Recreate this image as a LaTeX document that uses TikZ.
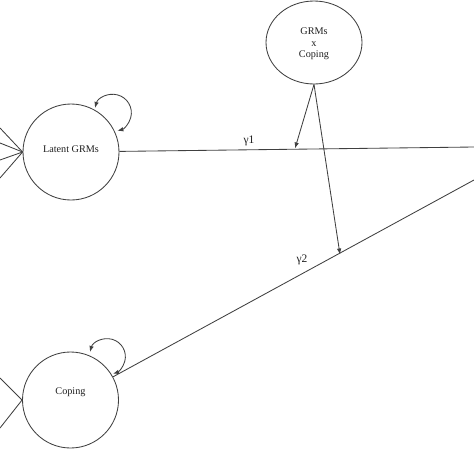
\documentclass[tikz,border=0pt]{standalone}
\usepackage{fontspec}
\setmainfont{Liberation Serif}
\usetikzlibrary{arrows.meta,shapes.geometric}
\begin{document}
\begin{tikzpicture}[x=1pt,y=-1pt,
  ln/.style={draw=black!75, line width=0.85pt},
  tipend/.style={-{Latex[length=6pt,width=4.5pt]}},
  bothtips/.style={{Latex[length=6pt,width=4.5pt]}-{Latex[length=6pt,width=4.5pt]}},
  latv/.style={circle, draw=black!75, line width=0.85pt, minimum size=96pt, inner sep=0pt},
  intv/.style={ellipse, draw=black!75, line width=0.85pt, minimum width=96pt, minimum height=83pt, inner sep=0pt},
  lbl/.style={font=\fontsize{10.2}{11.5}\selectfont, text=black!88, inner sep=0pt, align=center},
  glbl/.style={font=\fontsize{11.5}{12}\selectfont, text=black!88, inner sep=0pt}]
\useasboundingbox (0,0) rectangle (474,474);
% latent variables
\node[latv] (grm) at (71,152) {};
\node[latv] (cop) at (70.5,400) {};
\node[intv] (int) at (314,42.5) {};
% labels
\node[lbl] (tgrm) at (71,149) {Latent GRMs};
\node[lbl] (tcop) at (70.5,392) {Coping};
\node[lbl] (tint) at (314,44) {GRMs\\x\\Coping};
\node[glbl] (g1) at (249,141) {γ1};
\node[glbl] (g2) at (302,260) {γ2};
% free ends
\coordinate (r1) at (474,147);
\coordinate (r2) at (474,180);
\coordinate (m1) at (295,148.5);
\coordinate (m2) at (340,254.5);
\coordinate (a1) at (0,128);
\coordinate (a2) at (0,143);
\coordinate (a3) at (0,160);
\coordinate (a4) at (0,178);
\coordinate (b1) at (0,378);
\coordinate (b2) at (0,428);
\coordinate (ls1) at (95,108);
\coordinate (ls2) at (90,352);
% paths
\draw[ln] (grm) -- (r1);
\draw[ln] (cop) -- (r2);
\draw[ln,tipend] (int.south) -- (m1);
\draw[ln,tipend] (int.south) -- (m2);
\foreach \a in {a1,a2,a3,a4} \draw[ln] (grm.west) -- (\a);
\foreach \b in {b1,b2} \draw[ln] (cop.west) -- (\b);
% self loops
\draw[ln,bothtips] (ls1) arc[start angle=195, end angle=436, radius=18.5];
\draw[ln,bothtips] (ls2) arc[start angle=195, end angle=432, radius=18];
\end{tikzpicture}
\end{document}
